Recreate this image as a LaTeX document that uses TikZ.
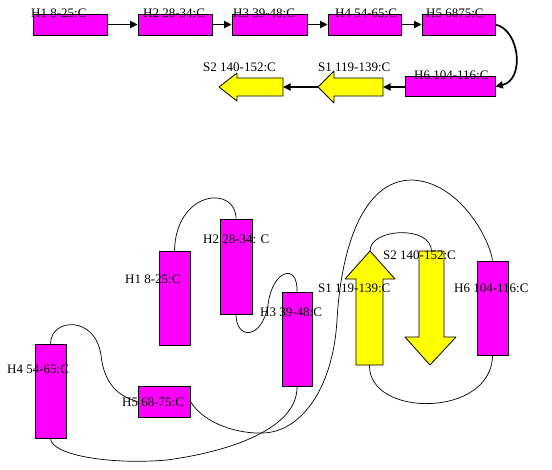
\documentclass[tikz,border=0pt]{standalone}
\usepackage{fontspec}
\setmainfont{Liberation Serif}
\usetikzlibrary{arrows.meta}
\definecolor{helixpink}{RGB}{255,0,255}
\definecolor{sheetyellow}{RGB}{255,255,0}
\begin{document}
\begin{tikzpicture}[x=1pt,y=-1pt,
	line join = round,>={Triangle[length=7.5pt,width=7pt]},
	helix/.style={rectangle,draw = black,line width=0.8pt,fill = helixpink,inner sep=0pt},
	sheet/.style={draw = black,line width=0.8pt,fill = sheetyellow},
	lbl/.style={anchor=base west,inner sep=0pt,font=\fontsize{13}{15}\selectfont},
	link/.style={line width=1.7pt},
	coil/.style={line width=0.7pt}]
	\useasboundingbox (0,0) rectangle (552,469);
	% linear map
	\node at (70,24.5) (nodeH1) [helix,minimum width=74pt,minimum height=21pt] {};
	\node at (175,24.5) (nodeH2) [helix,minimum width=74pt,minimum height=21pt] {};
	\node at (269.5,24.5) (nodeH3) [helix,minimum width=75pt,minimum height=21pt] {};
	\node at (364.5,24.5) (nodeH4) [helix,minimum width=73pt,minimum height=21pt] {};
	\node at (458.5,24.5) (nodeH5) [helix,minimum width=73pt,minimum height=21pt] {};
	\node at (450,86.5) (nodeH6) [helix,minimum width=90pt,minimum height=20pt] {};
	\draw[sheet] (383,78) -- (334,78) -- (334,71) -- (318,87) coordinate (tipS1) -- (334,103) -- (334,96) -- (383,96) -- cycle;
	\coordinate (endS1) at (383,87);
	\draw[sheet] (283,78) -- (237,78) -- (237,73) -- (219,87) coordinate (tipS2) -- (237,101) -- (237,96) -- (283,96) -- cycle;
	\coordinate (endS2) at (283,87);
	\node at (31,17) (lblH1) [lbl] {H1 8-25:C};
	\node at (143,17) (lblH2) [lbl] {H2 28-34:C};
	\node at (233,17) (lblH3) [lbl] {H3 39-48:C};
	\node at (335,17) (lblH4) [lbl] {H4 54-65:C};
	\node at (426,17) (lblH5) [lbl] {H5 6875:C};
	\node at (414,79) (lblH6) [lbl] {H6 104-116:C};
	\node at (318,71) (lblS1) [lbl] {S1 119-139:C};
	\node at (203,71) (lblS2) [lbl] {S2 140-152:C};
	\draw[link,->] (nodeH1) -- (nodeH2);
	\draw[link,->] (nodeH2) -- (nodeH3);
	\draw[link,->] (nodeH3) -- (nodeH4);
	\draw[link,->] (nodeH4) -- (nodeH5);
	\draw[link,->] (nodeH5.east) .. controls (520,30) and (525,80) .. (nodeH6.east);
	\draw[link,->] (nodeH6.west |- endS1) -- (endS1);
	\draw[link,->] (tipS1) -- (endS2);
	% topology
	\node at (174.5,298) (nodeHb1) [helix,minimum width=31pt,minimum height=94pt] {};
	\node at (236,266.5) (nodeHb2) [helix,minimum width=32pt,minimum height=95pt] {};
	\node at (297,339) (nodeHb3) [helix,minimum width=30pt,minimum height=94pt] {};
	\node at (50.5,391) (nodeHb4) [helix,minimum width=31pt,minimum height=94pt] {};
	\node at (164,401.5) (nodeHb5) [helix,minimum width=52pt,minimum height=31pt] {};
	\node at (492.5,308) (nodeHb6) [helix,minimum width=31pt,minimum height=94pt] {};
	\draw[sheet] (356,365) -- (356,279) -- (345,279) -- (370,251) coordinate (tipSb1) -- (395,279) -- (383,279) -- (383,365) -- cycle;
	\coordinate (endSb1) at (369.5,365);
	\draw[sheet] (419,251) -- (419,337) -- (405,337) -- (430,365) -- (456,337) -- (444,337) -- (444,251) -- cycle;
	\coordinate (endSb2) at (431.5,251);
	\draw[coil] (nodeHb1.north) .. controls (176,190) and (236,185) .. (nodeHb2.north);
	\draw[coil] (nodeHb2.south) .. controls (236,340) and (262,340) .. (268,305) .. controls (272,270) and (298,262) .. (nodeHb3.north);
	\draw[coil] (nodeHb3.south) .. controls (298,425) and (240,450) .. (167,460) .. controls (110,465) and (51,455) .. (nodeHb4.south);
	\draw[coil] (nodeHb4.north) .. controls (51,318) and (95,315) .. (101,355) .. controls (104,385) and (120,397) .. (nodeHb5.west);
	\draw[coil] (nodeHb5.east) .. controls (205,425) and (240,434) .. (263,433) .. controls (300,432) and (333,390) .. (337,320) .. controls (341,250) and (362,180) .. (412,180) .. controls (460,182) and (490,240) .. (nodeHb6.north);
	\draw[coil] (nodeHb6.south) .. controls (492,418) and (368,418) .. (endSb1);
	\draw[coil] (tipSb1) .. controls (370,228) and (431,225) .. (endSb2);
	\node at (125,283) (lblHb1) [lbl] {H1 8-25:C};
	\node at (203,243) (lblHb2) [lbl] {H2 28-34: C};
	\node at (260,316) (lblHb3) [lbl] {H3 39-48:C};
	\node at (7,373) (lblHb4) [lbl] {H4 54-65:C};
	\node at (122,406) (lblHb5) [lbl] {H5 68-75:C};
	\node at (318,292) (lblSb1) [lbl] {S1 119-139:C};
	\node at (383,259) (lblSb2) [lbl] {S2 140-152:C};
	\node at (454,292) (lblHb6) [lbl] {H6 104-116:C};
\end{tikzpicture}
\end{document}
